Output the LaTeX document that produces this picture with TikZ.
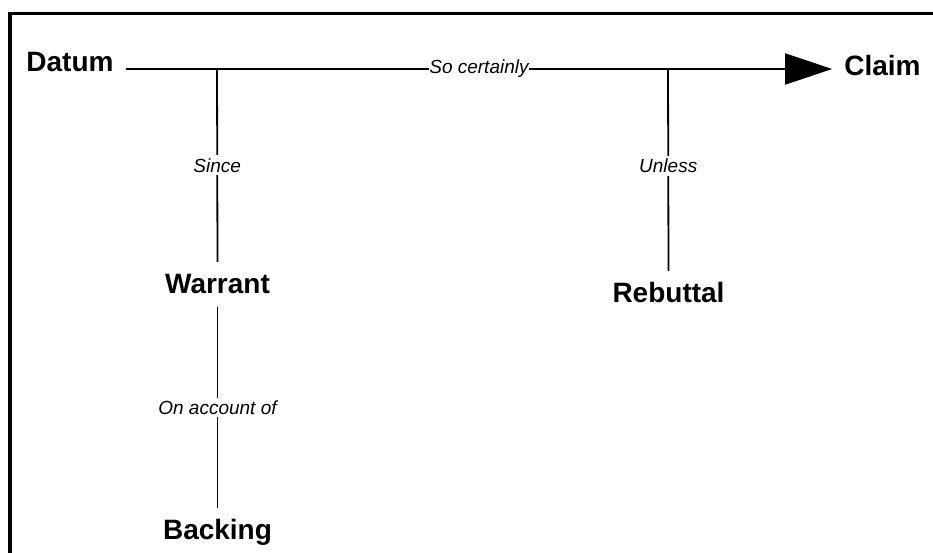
\documentclass[tikz,border=0pt]{standalone}
\usepackage{fontspec}
\setmainfont{Liberation Sans}
\usetikzlibrary{arrows.meta}
\begin{document}
\begin{tikzpicture}[x=1pt,y=-1pt,
  term/.style={font=\fontsize{28}{30}\selectfont\bfseries, text height=20pt, text depth=3pt,
               inner xsep=12pt, inner ysep=11pt},
  qual/.style={font=\fontsize{19}{21}\selectfont\itshape, fill=white,
               inner xsep=0pt, inner ysep=3pt},
  link/.style={line width=1.8pt},
  frame/.style={line width=3.5pt, miter limit=10}]
  \useasboundingbox (0,0) rectangle (933,553);

  % open frame: left side and top
  \draw[frame] (10,560) -- (10,13.5) -- (940,13.5);

  % the five elements of the argument
  \node[term, anchor=base] (datum)    at (70,72)   {Datum};
  \node[term, anchor=base] (claim)    at (882.5,76) {Claim};
  \node[term, anchor=base] (warrant)  at (217.5,293) {Warrant};
  \node[term, anchor=base] (backing)  at (217.5,539) {Backing};
  \node[term, anchor=base] (rebuttal) at (668.5,302) {Rebuttal};

  % junctions on the main line
  \coordinate (jw) at (217,69);
  \coordinate (jr) at (668,69);

  % main inference: datum to claim
  \draw[link, -{Triangle[length=47pt,width=31pt]}]
    (datum.east |- jw) -- node[qual, midway] (socert) {So certainly} (claim.west |- jw);

  % warrant and backing
  \draw[link] (jw) -- node[qual, midway] (since) {Since} (warrant.north);
  \draw[link] (warrant.south) -- node[qual, midway] (onacc) {On account of} (backing.north);

  % rebuttal
  \draw[link] (jr) -- node[qual, pos=0.48] (unless) {Unless} (rebuttal.north);
\end{tikzpicture}
\end{document}
